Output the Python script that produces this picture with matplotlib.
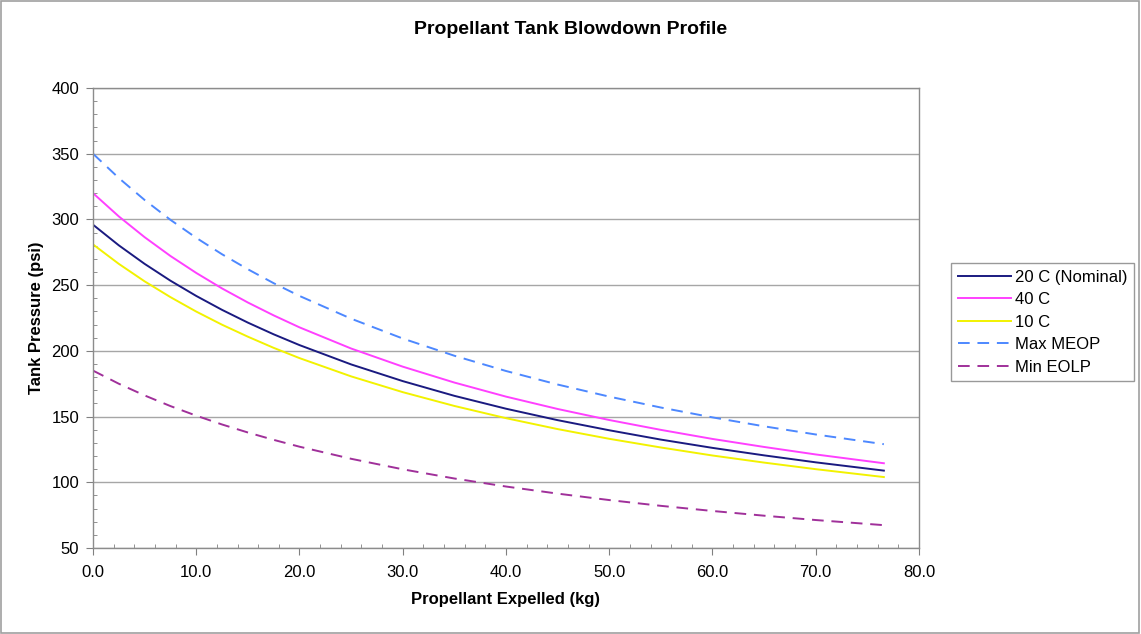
import numpy as np
import matplotlib
matplotlib.use("Agg")
import matplotlib.pyplot as plt
from matplotlib.patches import Rectangle
from matplotlib.ticker import MultipleLocator, FormatStrFormatter

plt.rcParams["font.family"] = ["Liberation Sans", "DejaVu Sans"]

# =========================
# DATA
# =========================
expelled_kg = [0, 2.5, 5, 7.5, 10, 12.5, 15, 17.5, 20, 25, 30, 35, 40, 45,
               50, 55, 60, 65, 70, 76.6]

p_20c = [296, 280.3, 266.2, 253.4, 241.8, 231.2, 221.5, 212.6, 204.4, 189.7,
         177.0, 165.8, 156.0, 147.3, 139.6, 132.5, 126.2, 120.5, 115.2, 108.9]
p_40c = [320, 302.3, 286.5, 272.2, 259.3, 247.5, 236.8, 227.0, 217.9, 201.8,
         188.0, 175.9, 165.2, 155.8, 147.4, 139.9, 133.0, 126.9, 121.2, 114.5]
p_10c = [281, 266.2, 252.9, 240.9, 229.9, 219.9, 210.8, 202.3, 194.5, 180.6,
         168.6, 158.1, 148.8, 140.5, 133.1, 126.5, 120.4, 115.0, 110.0, 104.0]
p_meop = [350, 331.5, 314.8, 299.7, 286.0, 273.5, 262.1, 251.5, 241.8, 224.5,
          209.4, 196.3, 184.7, 174.4, 165.2, 156.9, 149.4, 142.6, 136.4, 129.0]
p_eolp = [185, 175.0, 166.1, 158.0, 150.7, 144.0, 137.9, 132.3, 127.1, 117.9,
          109.9, 102.9, 96.8, 91.4, 86.5, 82.1, 78.2, 74.6, 71.3, 67.4]

# =========================
# PLOT
# =========================
fig = plt.figure(figsize=(11.41, 6.34), dpi=100)
ax = fig.add_axes([0.0815, 0.1356, 0.7239, 0.7256])

ax.plot(expelled_kg, p_20c, color="#1a1a80", lw=1.4, label="20 C (Nominal)")
ax.plot(expelled_kg, p_40c, color="#ff40ff", lw=1.4, label="40 C")
ax.plot(expelled_kg, p_10c, color="#f2f200", lw=1.4, label="10 C")
ax.plot(expelled_kg, p_meop, color="#4d88ff", lw=1.4, ls=(0, (6, 4)), label="Max MEOP")
ax.plot(expelled_kg, p_eolp, color="#a0309a", lw=1.4, ls=(0, (6, 4)), label="Min EOLP")

ax.set_xlim(0, 80)
ax.set_ylim(50, 400)
ax.xaxis.set_major_locator(MultipleLocator(10))
ax.xaxis.set_minor_locator(MultipleLocator(2))
ax.yaxis.set_major_locator(MultipleLocator(50))
ax.yaxis.set_minor_locator(MultipleLocator(10))
ax.xaxis.set_major_formatter(FormatStrFormatter("%.1f"))

ax.grid(axis="y", which="major", color="#a6a6a6", lw=1)
ax.set_axisbelow(True)
for s in ax.spines.values():
    s.set_color("#8c8c8c")
    s.set_linewidth(1)

ax.tick_params(which="major", direction="out", length=5, color="#808080",
               labelsize=12, pad=7)
ax.tick_params(axis="y", which="major", pad=5)
ax.tick_params(which="minor", direction="in", length=3, color="#808080")

ax.set_xlabel("Propellant Expelled (kg)", fontsize=12, fontweight="bold", labelpad=9)
ax.set_ylabel("Tank Pressure (psi)", fontsize=12, fontweight="bold", labelpad=5)
fig.text(0.5, 0.953, "Propellant Tank Blowdown Profile", ha="center", va="center",
         fontsize=14, fontweight="bold")

leg = ax.legend(loc="upper left", bbox_to_anchor=(0.8335, 0.585),
                bbox_transform=fig.transFigure, fontsize=12, frameon=True,
                fancybox=False, edgecolor="#808080", handlelength=3.2,
                handletextpad=0.25, borderpad=0.4, labelspacing=0.45,
                borderaxespad=0)
leg.get_frame().set_linewidth(1)

# light border around whole figure
fig.patches.append(Rectangle((0.001, 0.002), 0.997, 0.996, transform=fig.transFigure,
                             fill=False, edgecolor="#a0a0a0", lw=1.2))

fig.savefig("out.png", dpi=100)
